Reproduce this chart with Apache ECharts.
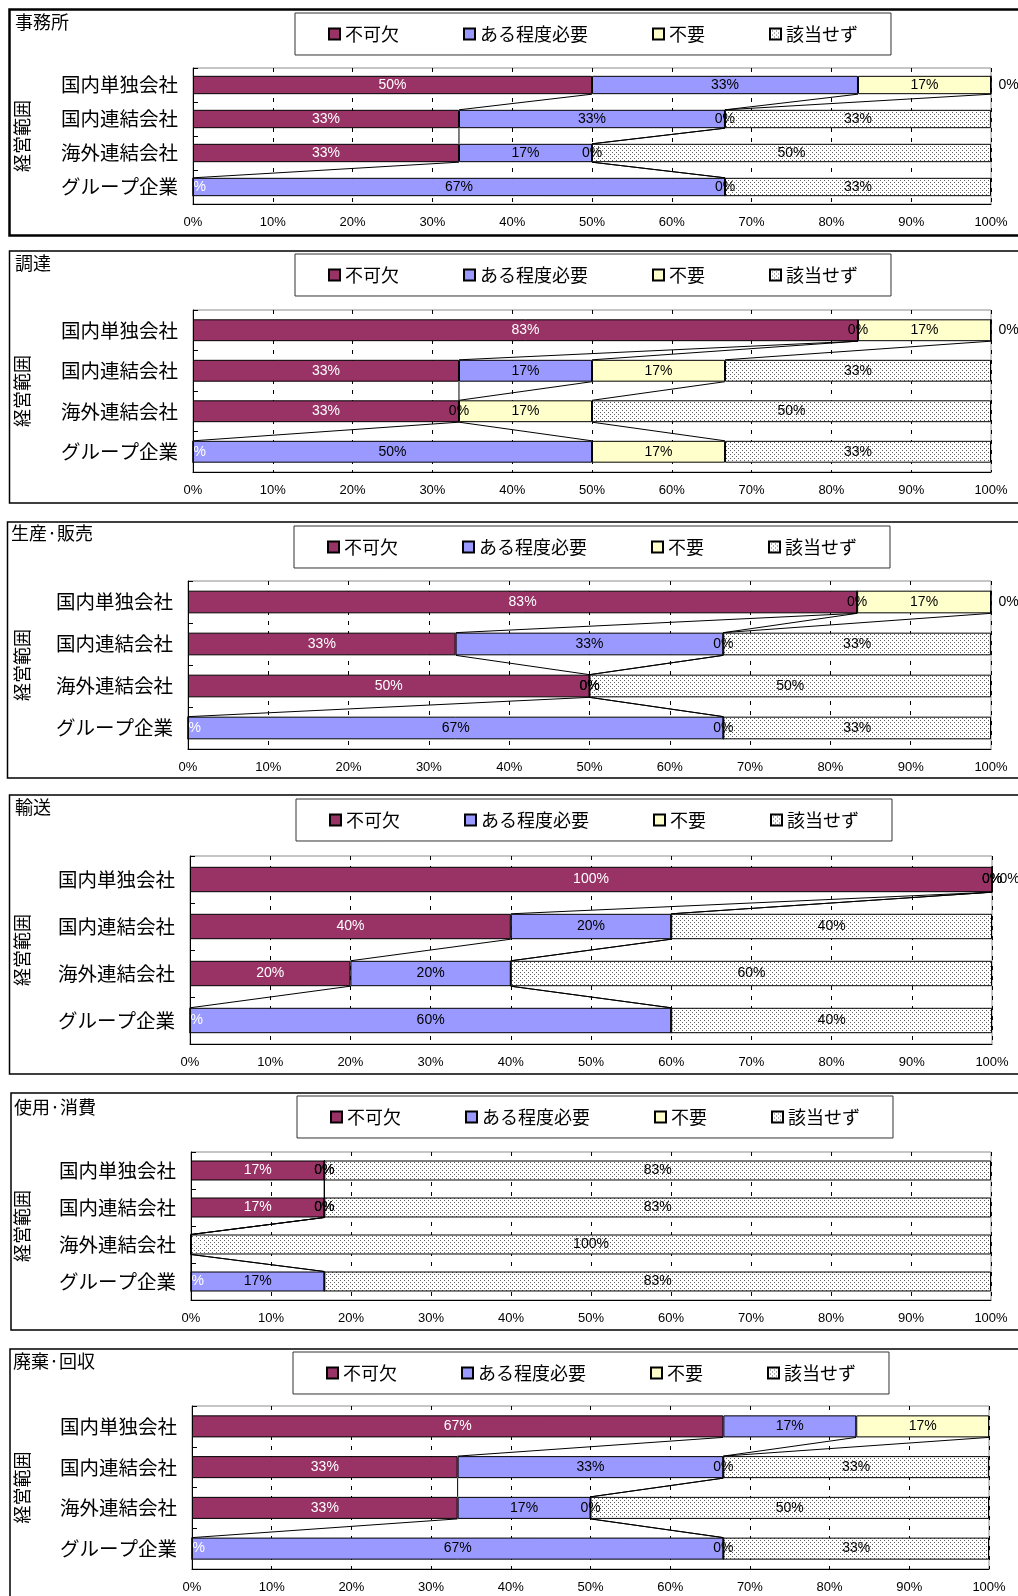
<!DOCTYPE html>
<html>
<head>
<meta charset="utf-8">
<script src="https://cdn.jsdelivr.net/npm/echarts@6/dist/echarts.min.js"></script>
<style>
  html, body { margin: 0; padding: 0; background: #fff; overflow: hidden; }
  #main { width: 1018px; height: 1596px; }
</style>
</head>
<body>
<div id="main"></div>
<script>
// カテゴリ・系列
const categories = ['国内単独会社', '国内連結会社', '海外連結会社', 'グループ企業'];
const seriesNames = ['不可欠', 'ある程度必要', '不要', '該当せず'];
const panelTitles = ['事務所', '調達', '生産·販売', '輸送', '使用·消費', '廃棄·回収'];
const axisName = '経営範囲';

// 各パネルの値(%)  行=系列, 列=カテゴリ
const officeData = [
    [50, 33.33, 33.33, 0],
    [33.33, 33.33, 16.67, 66.67],
    [16.67, 0, 0, 0],
    [0, 33.33, 50, 33.33]
];
const procurementData = [
    [83.33, 33.33, 33.33, 0],
    [0, 16.67, 0, 50],
    [16.67, 16.67, 16.67, 16.67],
    [0, 33.33, 50, 33.33]
];
const productionData = [
    [83.33, 33.33, 50, 0],
    [0, 33.33, 0, 66.67],
    [16.67, 0, 0, 0],
    [0, 33.33, 50, 33.33]
];
const transportData = [
    [100, 40, 20, 0],
    [0, 20, 20, 60],
    [0, 0, 0, 0],
    [0, 40, 60, 40]
];
const useData = [
    [16.67, 16.67, 0, 0],
    [0, 0, 0, 16.67],
    [0, 0, 0, 0],
    [83.33, 83.33, 100, 83.33]
];
const disposalData = [
    [66.67, 33.33, 33.33, 0],
    [16.67, 33.33, 16.67, 66.67],
    [16.67, 0, 0, 0],
    [0, 33.33, 50, 33.33]
];
const panelData = [officeData, procurementData, productionData, transportData, useData, disposalData];

// 0%ラベルを表示しない点 [系列, カテゴリ]
const hiddenZeroLabels = [
    [], [], [],
    [[2, 1], [2, 2], [2, 3]],
    [[1, 2], [2, 2], [2, 3]],
    []
];

// レイアウト
const layout = [
    {box: [9.5, 9.5, 226], lw: 2.5, tx: 15, ty: 13, lx: 295, ly: 13, gl: 193, gr: 27, gt: 68, gh: 136},
    {box: [9.5, 251, 252], lw: 1.5, tx: 15, ty: 254, lx: 295, ly: 254, gl: 193, gr: 27, gt: 310, gh: 162},
    {box: [7.5, 522, 256], lw: 1.5, tx: 11, ty: 524, lx: 294, ly: 526, gl: 188, gr: 27, gt: 581, gh: 168},
    {box: [9.5, 795, 279], lw: 1.5, tx: 15, ty: 798, lx: 296, ly: 799, gl: 190, gr: 26, gt: 856, gh: 188},
    {box: [11, 1093, 237], lw: 1.5, tx: 14, ty: 1098, lx: 297, ly: 1096, gl: 191, gr: 27, gt: 1152, gh: 148},
    {box: [10, 1349, 262], lw: 1.5, tx: 13, ty: 1352, lx: 293, ly: 1352, gl: 192, gr: 29, gt: 1406, gh: 163}
];

// 該当せず の点模様
function dotPattern() {
    const c = document.createElement('canvas');
    c.width = 4; c.height = 4;
    const ctx = c.getContext('2d');
    ctx.fillStyle = '#fff';
    ctx.fillRect(0, 0, 4, 4);
    ctx.fillStyle = '#5e5e5e';
    ctx.fillRect(0, 0, 1, 1);
    ctx.fillRect(2, 2, 1, 1);
    return c;
}
const colors = ['#993366', '#9999FF', '#FFFFCC', {image: dotPattern(), repeat: 'repeat'}];
const labelColors = ['#fff', '#000', '#000', '#000'];
const CJK = '"Noto Sans CJK JP", sans-serif';
const LAT = '"Liberation Sans", Arial, sans-serif';

const chart = echarts.init(document.getElementById('main'));

const option = {
    animation: false,
    backgroundColor: '#fff',
    title: [], legend: [], grid: [], xAxis: [], yAxis: [], series: [], graphic: []
};

panelData.forEach((vals, p) => {
    const L = layout[p];
    option.graphic.push({
        type: 'rect', z: 0,
        shape: {x: L.box[0], y: L.box[1], width: 1060, height: L.box[2]},
        style: {fill: 'none', stroke: '#000', lineWidth: L.lw}
    });
    option.title.push({
        text: panelTitles[p], left: L.tx, top: L.ty, padding: 0,
        textStyle: {fontSize: 18, fontWeight: 'normal', color: '#000', fontFamily: CJK}
    });
    option.legend.push({
        data: seriesNames, left: L.lx, top: L.ly,
        padding: [12, 33], itemGap: 64, itemWidth: 11, itemHeight: 11,
        borderColor: '#333', borderWidth: 1, borderRadius: 0,
        icon: 'rect', selectedMode: false,
        textStyle: {fontSize: 18, color: '#000', fontFamily: CJK}
    });
    option.grid.push({
        left: L.gl, right: L.gr, top: L.gt, height: L.gh,
        show: true, borderColor: '#8c8c8c', borderWidth: 1, backgroundColor: '#fff'
    });
    option.xAxis.push({
        type: 'value', gridIndex: p, min: 0, max: 100, interval: 10,
        axisLine: {show: true, lineStyle: {color: '#000'}},
        axisTick: {show: false},
        axisLabel: {formatter: '{value}%', fontSize: 13, color: '#000', margin: 12, fontFamily: LAT},
        splitLine: {show: true, lineStyle: {color: '#000', type: [4, 6], width: 1}}
    });
    option.yAxis.push({
        type: 'category', gridIndex: p, data: categories, inverse: true,
        name: axisName, nameLocation: 'middle', nameRotate: 90, nameGap: L.gl - 31,
        nameTextStyle: {fontSize: 18, color: '#000', fontFamily: CJK},
        axisLine: {show: true, lineStyle: {color: '#000'}},
        axisTick: {show: true, inside: true, length: 5, lineStyle: {color: '#000'}},
        axisLabel: {fontSize: 19.5, color: '#000', margin: 15, fontFamily: CJK}
    });

    const hidden = hiddenZeroLabels[p];
    vals.forEach((row, s) => {
        const data = row.map((v, c) => {
            const item = {value: v};
            if (v === 0) {
                if (hidden.some(h => h[0] === s && h[1] === c)) {
                    item.label = {show: false};
                } else if (s === 0) {
                    item.label = {position: 'insideLeft', distance: 1, formatter: '%', color: '#fff'};
                } else if (s === 3) {
                    item.label = {position: 'right', distance: 7, color: '#000'};
                } else {
                    item.label = {position: 'inside', color: '#000'};
                }
            }
            return item;
        });
        option.series.push({
            name: seriesNames[s], type: 'bar', stack: 'p' + p,
            xAxisIndex: p, yAxisIndex: p, barWidth: '54%', z: 3,
            itemStyle: {color: colors[s], borderColor: '#000', borderWidth: 1},
            label: {
                show: true, position: 'inside', color: labelColors[s],
                fontSize: 14, fontFamily: LAT,
                formatter: (d) => Math.round(d.value) + '%'
            },
            emphasis: {disabled: true},
            data: data
        });
    });

    // 区分線 (系列線)
    const segs = [];
    for (let s = 0; s < 3; s++) {
        const cum = categories.map((_, c) => vals.slice(0, s + 1).reduce((a, r) => a + r[c], 0));
        for (let c = 0; c < categories.length - 1; c++) {
            segs.push([cum[c], c, cum[c + 1], c + 1]);
        }
    }
    option.series.push({
        type: 'custom', name: 'line' + p, xAxisIndex: p, yAxisIndex: p, z: 2,
        silent: true,
        encode: {x: [0, 2], y: [1, 3]},
        renderItem: (params, api) => {
            const a = api.coord([api.value(0), api.value(1)]);
            const b = api.coord([api.value(2), api.value(3)]);
            const h = api.size([0, 1])[1] * 0.27;
            return {
                type: 'line',
                shape: {x1: a[0], y1: a[1] + h, x2: b[0], y2: b[1] - h},
                style: {stroke: '#000', lineWidth: 1}
            };
        },
        data: segs
    });
});

chart.setOption(option);
</script>
</body>
</html>
